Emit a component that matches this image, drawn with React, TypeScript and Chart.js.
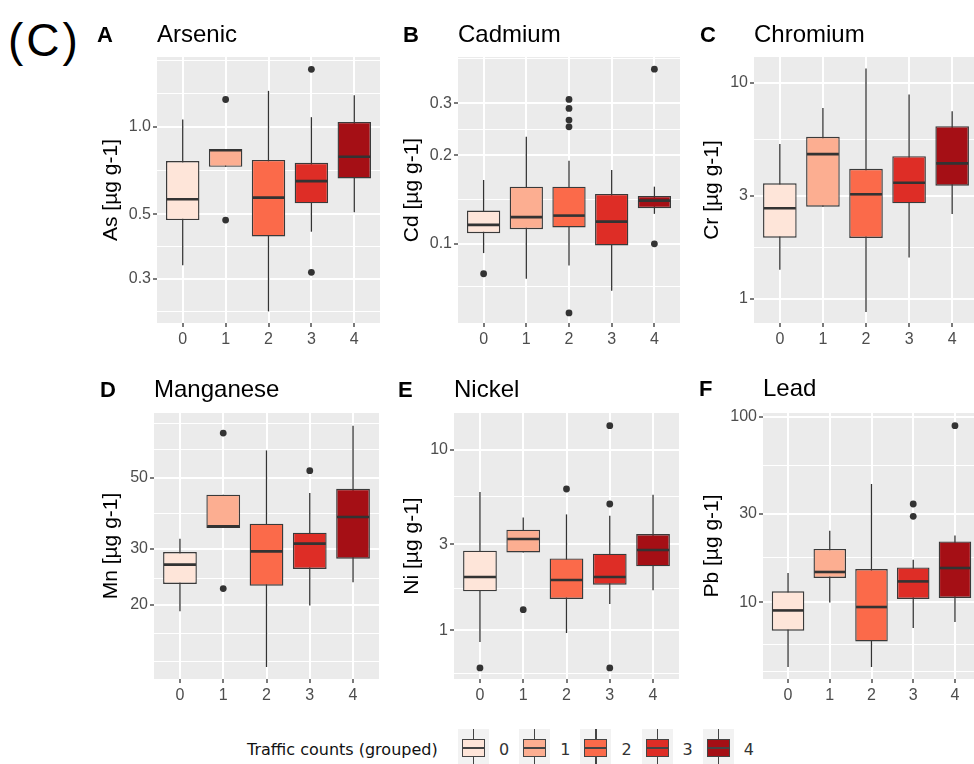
import React, { useEffect, useRef } from 'react';
import { Chart, registerables } from 'chart.js';

Chart.register(...registerables);

// ---------- categories & palette ----------
const categories = ['0', '1', '2', '3', '4'];
const fillColors = ['#FEE5D9', '#FCAE91', '#FB6A4A', '#DE2D26', '#A50F15'];
const legendTitle = 'Traffic counts (grouped)';

// ---------- Arsenic ----------
const asQ1 = [0.478, 0.729, 0.42, 0.546, 0.665];
const asMed = [0.564, 0.831, 0.571, 0.651, 0.789];
const asQ3 = [0.763, 0.839, 0.77, 0.752, 1.04];
const asLo = [0.334, 0.729, 0.232, 0.436, 0.509];
const asHi = [1.06, 0.839, 1.33, 1.08, 1.285];
const asOutX = [1, 1, 3, 3];
const asOutY = [1.242, 0.478, 1.577, 0.316];
const asMajor = [0.3, 0.5, 1.0];
const asMajorLabels = ['0.3', '0.5', '1.0'];
const asMinor = [0.231, 0.387, 0.71, 1.3, 1.69];
const asRange = [0.2116, 1.739];

// ---------- Cadmium ----------
const cdQ1 = [0.1087, 0.1121, 0.1136, 0.0987, 0.1322];
const cdMed = [0.116, 0.1232, 0.1247, 0.119, 0.1402];
const cdQ3 = [0.1297, 0.1564, 0.1564, 0.1477, 0.1455];
const cdLo = [0.093, 0.0761, 0.0844, 0.0693, 0.1264];
const cdHi = [0.1648, 0.2311, 0.1916, 0.1782, 0.1564];
const cdOutX = [0, 2, 2, 2, 2, 2, 4, 4];
const cdOutY = [0.0791, 0.3095, 0.2885, 0.2633, 0.2499, 0.0582, 0.3922, 0.1];
const cdMajor = [0.1, 0.2, 0.3];
const cdMajorLabels = ['0.1', '0.2', '0.3'];
const cdMinor = [0.0716, 0.141, 0.245, 0.4265];
const cdRange = [0.0538, 0.4315];

// ---------- Chromium ----------
const crQ1 = [1.92, 2.672, 1.914, 2.77, 3.34];
const crMed = [2.627, 4.68, 3.05, 3.45, 4.24];
const crQ3 = [3.43, 5.63, 4.005, 4.58, 6.31];
const crLo = [1.362, 2.672, 0.868, 1.552, 2.47];
const crHi = [5.21, 7.66, 11.66, 8.84, 7.4];
const crOutX: number[] = [];
const crOutY: number[] = [];
const crMajor = [1, 3, 10];
const crMajorLabels = ['1', '3', '10'];
const crMinor = [1.72, 5.45];
const crRange = [0.772, 13.2];

// ---------- Manganese ----------
const mnQ1 = [23.24, 34.83, 22.95, 25.89, 27.88];
const mnMed = [26.71, 35.24, 29.4, 31.09, 37.72];
const mnQ3 = [29.27, 44.3, 35.92, 33.67, 46.25];
const mnLo = [19.06, 34.83, 12.74, 19.86, 23.5];
const mnHi = [32.24, 44.3, 61.03, 44.85, 72.99];
const mnOutX = [1, 1, 3];
const mnOutY = [69.19, 22.46, 52.7];
const mnMajor = [20, 30, 50];
const mnMajorLabels = ['20', '30', '50'];
const mnMinor = [13.26, 16.18, 24.25, 38.8, 61.35, 74.4];
const mnRange = [11.68, 80.0];

// ---------- Nickel ----------
const niQ1 = [1.644, 2.702, 1.492, 1.79, 2.261];
const niMed = [1.975, 3.204, 1.901, 1.975, 2.786];
const niQ3 = [2.761, 3.608, 2.503, 2.658, 3.416];
const niLo = [0.863, 2.702, 0.967, 1.4, 1.665];
const niHi = [5.83, 4.22, 4.385, 4.313, 5.636];
const niOutX = [0, 1, 2, 3, 3, 3];
const niOutY = [0.6195, 1.302, 6.06, 13.58, 5.007, 0.6195];
const niMajor = [1, 3, 10];
const niMajorLabels = ['1', '3', '10'];
const niMinor = [0.577, 1.7, 5.48];
const niRange = [0.538, 15.97];

// ---------- Lead ----------
const pbQ1 = [7.03, 13.54, 6.16, 10.43, 10.56];
const pbMed = [9.05, 14.59, 9.44, 12.98, 15.33];
const pbQ3 = [11.47, 19.42, 15.14, 15.45, 21.34];
const pbLo = [4.48, 10.0, 4.48, 7.27, 7.84];
const pbHi = [14.41, 24.37, 43.55, 17.0, 22.99];
const pbOutX = [3, 3, 4];
const pbOutY = [33.96, 29.12, 89.87];
const pbMajor = [10, 30, 100];
const pbMajorLabels = ['10', '30', '100'];
const pbMinor = [4.24, 5.91, 17.36, 54.7];
const pbRange = [3.86, 105.2];

type Series = {
  tag: string; name: string; yTitle: string;
  q1: number[]; med: number[]; q3: number[]; lo: number[]; hi: number[];
  outX: number[]; outY: number[];
  major: number[]; majorLabels: string[]; minor: number[]; range: number[];
};

const SERIES: Series[] = [
  { tag: 'A', name: 'Arsenic', yTitle: 'As [µg g-1]', q1: asQ1, med: asMed, q3: asQ3, lo: asLo, hi: asHi, outX: asOutX, outY: asOutY, major: asMajor, majorLabels: asMajorLabels, minor: asMinor, range: asRange },
  { tag: 'B', name: 'Cadmium', yTitle: 'Cd [µg g-1]', q1: cdQ1, med: cdMed, q3: cdQ3, lo: cdLo, hi: cdHi, outX: cdOutX, outY: cdOutY, major: cdMajor, majorLabels: cdMajorLabels, minor: cdMinor, range: cdRange },
  { tag: 'C', name: 'Chromium', yTitle: 'Cr [µg g-1]', q1: crQ1, med: crMed, q3: crQ3, lo: crLo, hi: crHi, outX: crOutX, outY: crOutY, major: crMajor, majorLabels: crMajorLabels, minor: crMinor, range: crRange },
  { tag: 'D', name: 'Manganese', yTitle: 'Mn [µg g-1]', q1: mnQ1, med: mnMed, q3: mnQ3, lo: mnLo, hi: mnHi, outX: mnOutX, outY: mnOutY, major: mnMajor, majorLabels: mnMajorLabels, minor: mnMinor, range: mnRange },
  { tag: 'E', name: 'Nickel', yTitle: 'Ni [µg g-1]', q1: niQ1, med: niMed, q3: niQ3, lo: niLo, hi: niHi, outX: niOutX, outY: niOutY, major: niMajor, majorLabels: niMajorLabels, minor: niMinor, range: niRange },
  { tag: 'F', name: 'Lead', yTitle: 'Pb [µg g-1]', q1: pbQ1, med: pbMed, q3: pbQ3, lo: pbLo, hi: pbHi, outX: pbOutX, outY: pbOutY, major: pbMajor, majorLabels: pbMajorLabels, minor: pbMinor, range: pbRange },
];

// ---------- layout (pixels) ----------
type Geom = { plotLeft: number; plotRight: number; plotTop: number; plotBottom: number; titleCx: number; tagLeft: number; nameLeft: number; baseline: number };
const GEOM: Geom[] = [
  { plotLeft: 157, plotRight: 380, plotTop: 57, plotBottom: 323, titleCx: 111, tagLeft: 97, nameLeft: 157, baseline: 42 },
  { plotLeft: 458, plotRight: 680, plotTop: 57, plotBottom: 323, titleCx: 412, tagLeft: 403, nameLeft: 458, baseline: 42 },
  { plotLeft: 754, plotRight: 978, plotTop: 57, plotBottom: 323, titleCx: 712, tagLeft: 700, nameLeft: 754, baseline: 42 },
  { plotLeft: 154, plotRight: 379, plotTop: 413, plotBottom: 679, titleCx: 111, tagLeft: 100, nameLeft: 154, baseline: 397 },
  { plotLeft: 454, plotRight: 679, plotTop: 413, plotBottom: 679, titleCx: 412, tagLeft: 398, nameLeft: 454, baseline: 397 },
  { plotLeft: 763, plotRight: 980, plotTop: 413, plotBottom: 679, titleCx: 712, tagLeft: 699, nameLeft: 763, baseline: 396 },
];

const TP = 14;
const RP = 4;
const BH = 30;
const BOX_WIDTH = 0.78;
const FONT = "'Liberation Sans', Arial, Helvetica, sans-serif";
const LEGEND_FONT = "'DejaVu Sans', Verdana, sans-serif";
const TICK_FONT_SIZE = 16;
const AXIS_TITLE_SIZE = 21;

const topFor = (baseline: number, size: number) => baseline - size * 0.8465;

const bgPlugin = {
  id: 'panelBg',
  beforeDraw(chart: any) {
    const { ctx, chartArea } = chart;
    if (!chartArea) return;
    ctx.save();
    ctx.fillStyle = '#EBEBEB';
    ctx.fillRect(chartArea.left, chartArea.top, chartArea.right - chartArea.left, chartArea.bottom - chartArea.top);
    ctx.restore();
  },
};

function buildConfig(s: Series, LW: number): any {
  const isMajor = (v: number) => s.major.some((m) => Math.abs(m - v) / m < 1e-6);
  const datasets: any[] = [];
  categories.forEach((_, i) => {
    datasets.push({
      type: 'line',
      data: [{ x: i, y: s.lo[i] }, { x: i, y: s.hi[i] }],
      borderColor: '#333333',
      borderWidth: 1.3,
      pointRadius: 0,
      fill: false,
      order: 4,
    });
  });
  datasets.push({
    type: 'bar',
    data: categories.map((_, i) => ({ x: i, y: [s.q1[i], s.q3[i]] })),
    backgroundColor: fillColors,
    borderColor: '#3a3a3a',
    borderWidth: 1.4,
    borderSkipped: false,
    barPercentage: BOX_WIDTH,
    categoryPercentage: 1,
    grouped: false,
    order: 3,
  });
  categories.forEach((_, i) => {
    datasets.push({
      type: 'line',
      data: [{ x: i - BOX_WIDTH / 2 + 0.02, y: s.med[i] }, { x: i + BOX_WIDTH / 2 - 0.02, y: s.med[i] }],
      borderColor: '#333333',
      borderWidth: 2.6,
      pointRadius: 0,
      fill: false,
      order: 2,
    });
  });
  datasets.push({
    type: 'scatter',
    data: s.outX.map((x, k) => ({ x, y: s.outY[k] })),
    pointRadius: 3.4,
    pointBackgroundColor: '#333333',
    pointBorderWidth: 0,
    order: 1,
  });

  const ticksAll = [...s.major, ...s.minor].sort((a, b) => a - b);

  return {
    type: 'bar',
    data: { datasets },
    options: {
      responsive: false,
      animation: false,
      events: [],
      layout: { padding: { top: TP, right: RP, left: 0, bottom: 0 }, autoPadding: false },
      plugins: { legend: { display: false }, tooltip: { enabled: false }, title: { display: false } },
      scales: {
        x: {
          type: 'linear',
          min: -0.6,
          max: 4.6,
          bounds: 'data',
          offset: false,
          afterBuildTicks: (scale: any) => {
            scale.ticks = categories.map((_, i) => ({ value: i }));
          },
          afterFit: (scale: any) => {
            scale.height = BH;
          },
          ticks: {
            autoSkip: false,
            maxRotation: 0,
            padding: 3,
            color: '#4D4D4D',
            font: { family: FONT, size: TICK_FONT_SIZE },
            callback: (v: number) => categories[Math.round(v)] ?? '',
          },
          grid: { offset: false, color: '#FFFFFF', lineWidth: 2, tickColor: '#333333', tickLength: 4, tickWidth: 1.3, drawTicks: true },
          border: { display: false },
        },
        y: {
          type: 'logarithmic',
          min: s.range[0],
          max: s.range[1],
          bounds: 'data',
          afterBuildTicks: (scale: any) => {
            scale.ticks = ticksAll.map((v) => ({ value: v, major: false }));
          },
          afterFit: (scale: any) => {
            scale.width = LW;
          },
          ticks: {
            autoSkip: false,
            padding: 2,
            color: '#4D4D4D',
            font: { family: FONT, size: TICK_FONT_SIZE },
            callback: (v: number) => {
              const idx = s.major.findIndex((m) => Math.abs(m - v) / m < 1e-6);
              return idx >= 0 ? s.majorLabels[idx] : '';
            },
          },
          grid: {
            color: '#FFFFFF',
            lineWidth: (c: any) => (c.tick && !isMajor(c.tick.value) ? 1 : 2),
            tickColor: (c: any) => (c.tick && !isMajor(c.tick.value) ? 'rgba(0,0,0,0)' : '#333333'),
            tickLength: 4,
            tickWidth: 1.3,
            drawTicks: true,
          },
          border: { display: false },
          title: {
            display: true,
            text: s.yTitle,
            color: '#000000',
            font: { family: FONT, size: AXIS_TITLE_SIZE },
            padding: { top: 14 - (AXIS_TITLE_SIZE * 1.2) / 2, bottom: 0 },
          },
        },
      },
    },
    plugins: [bgPlugin],
  };
}

function Panel({ s, g }: { s: Series; g: Geom }) {
  const ref = useRef<HTMLCanvasElement>(null);
  const cl = g.titleCx - 14;
  const ct = g.plotTop - TP;
  const W = g.plotRight + RP - cl;
  const H = g.plotBottom + BH - ct;
  const LW = g.plotLeft - cl;
  useEffect(() => {
    if (!ref.current) return;
    const chart = new Chart(ref.current, buildConfig(s, LW));
    return () => chart.destroy();
  }, []);
  return (
    <>
      <canvas ref={ref} width={W} height={H} style={{ position: 'absolute', left: cl, top: ct, width: W, height: H }} />
      <div style={{ position: 'absolute', left: g.tagLeft, top: topFor(g.baseline + 0.5, 22), fontFamily: FONT, fontWeight: 700, fontSize: 22, lineHeight: 1, color: '#000', whiteSpace: 'nowrap' }}>{s.tag}</div>
      <div style={{ position: 'absolute', left: g.nameLeft, top: topFor(g.baseline, 24), fontFamily: FONT, fontSize: 24, lineHeight: 1, color: '#000', whiteSpace: 'nowrap' }}>{s.name}</div>
    </>
  );
}

function LegendKey({ color, left }: { color: string; left: number }) {
  return (
    <div style={{ position: 'absolute', left, top: 729, width: 31, height: 40, background: '#F2F2F2' }}>
      <div style={{ position: 'absolute', left: 15, top: 0, width: 1.3, height: 40, background: '#444' }} />
      <div style={{ position: 'absolute', left: 4, top: 10, width: 23, height: 18, boxSizing: 'border-box', border: '1.3px solid #444', background: color }} />
      <div style={{ position: 'absolute', left: 4, top: 18, width: 23, height: 2, background: '#444' }} />
    </div>
  );
}

export default function App() {
  return (
    <div style={{ position: 'fixed', left: 0, top: 0, width: 974, height: 764, overflow: 'hidden', background: '#FFFFFF' }}>
      <div style={{ position: 'absolute', left: 8, top: topFor(55.5, 46), fontFamily: FONT, fontSize: 46, lineHeight: 1, letterSpacing: 3, color: '#000', whiteSpace: 'nowrap' }}>(C)</div>
      {SERIES.map((s, i) => (
        <Panel key={s.tag} s={s} g={GEOM[i]} />
      ))}
      <div style={{ position: 'absolute', left: 247, top: topFor(756, 16), fontFamily: LEGEND_FONT, fontSize: 16, lineHeight: 1, color: '#111', whiteSpace: 'nowrap' }}>{legendTitle}</div>
      {categories.map((c, i) => {
        const left = 458 + i * 61.2;
        return (
          <React.Fragment key={c}>
            <LegendKey color={fillColors[i]} left={left} />
            <div style={{ position: 'absolute', left: left + 41, top: topFor(756, 16), fontFamily: LEGEND_FONT, fontSize: 16, lineHeight: 1, color: '#333', whiteSpace: 'nowrap' }}>{c}</div>
          </React.Fragment>
        );
      })}
    </div>
  );
}
